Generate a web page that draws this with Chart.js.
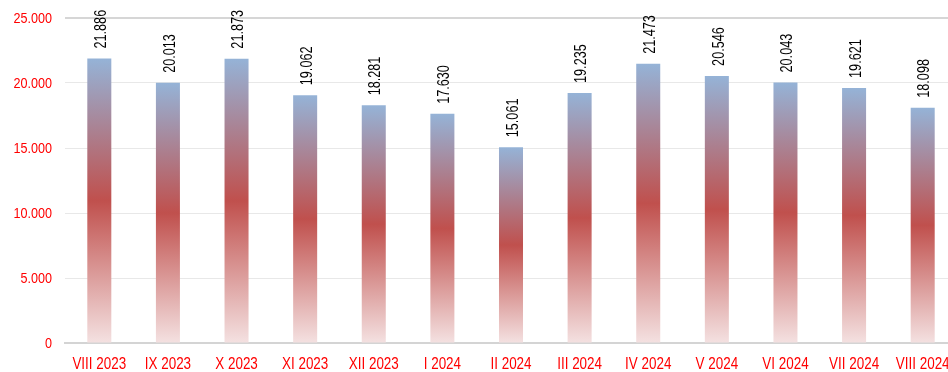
<!DOCTYPE html>
<html>
<head>
<meta charset="utf-8">
<script src="https://cdn.jsdelivr.net/npm/chart.js@4.4.1/dist/chart.umd.min.js"></script>
<style>
  html, body { margin: 0; padding: 0; background: #fff; overflow: hidden; }
  #wrap { width: 960px; height: 372px; position: relative; }
</style>
</head>
<body>
<div id="wrap"><canvas id="chart"></canvas></div>
<script>
const months = ['VIII 2023', 'IX 2023', 'X 2023', 'XI 2023', 'XII 2023', 'I 2024', 'II 2024',
  'III 2024', 'IV 2024', 'V 2024', 'VI 2024', 'VII 2024', 'VIII 2024'];
const totals = [21886, 20013, 21873, 19062, 18281, 17630, 15061, 19235, 21473, 20546, 20043, 19621, 18098];
const yTicks = [0, 5000, 10000, 15000, 20000, 25000];

const FONT = "'Liberation Sans', Arial, sans-serif";

// 21886 -> "21.886"
function fmt(v) {
  return String(Math.round(v)).replace(/\B(?=(\d{3})+(?!\d))/g, '.');
}

// narrow text: regular sans squeezed horizontally (along the text direction)
function narrowText(ctx, text, x, y, size, squeeze, align, angle) {
  ctx.save();
  ctx.font = size + 'px ' + FONT;
  ctx.translate(x, y);
  if (angle) ctx.rotate(angle);
  ctx.scale(squeeze, 1);
  ctx.textAlign = align;
  ctx.textBaseline = 'alphabetic';
  ctx.fillText(text, 0, 0);
  ctx.restore();
}

// each bar gets its own gradient: blue on top, red in the middle, pale pink at the base
function barGradient(ctx) {
  const chart = ctx.chart;
  if (!chart.chartArea || ctx.type !== 'data') return '#c0504d';
  const y = chart.scales.y;
  const top = y.getPixelForValue(ctx.raw);
  const base = y.getPixelForValue(0);
  const g = chart.ctx.createLinearGradient(0, top, 0, base);
  g.addColorStop(0, '#95b3d7');
  g.addColorStop(0.5, '#c0504d');
  g.addColorStop(1, '#f4e1e1');
  return g;
}

// axis labels + vertical value labels, positioned from the chart's scales
const labelsPlugin = {
  id: 'labelsPlugin',
  afterDraw(chart) {
    const ctx = chart.ctx;
    const xs = chart.scales.x;
    const ys = chart.scales.y;

    ctx.fillStyle = '#ff0000';
    yTicks.forEach(v => {
      narrowText(ctx, fmt(v), ys.right - 13, ys.getPixelForValue(v) + 5.4, 15, 0.84, 'right');
    });
    months.forEach((m, i) => {
      narrowText(ctx, m, xs.getPixelForTick(i), xs.top + 26, 16, 0.84, 'center');
    });

    ctx.fillStyle = '#000';
    const cap = 16 * 0.716;
    chart.getDatasetMeta(0).data.forEach((bar, i) => {
      narrowText(ctx, fmt(totals[i]), bar.x + 1 + cap / 2, bar.y - 10, 16, 0.79, 'left', -Math.PI / 2);
    });
  }
};

new Chart(document.getElementById('chart'), {
  type: 'bar',
  data: {
    labels: months,
    datasets: [{
      data: totals,
      backgroundColor: barGradient,
      borderWidth: 0,
      barPercentage: 0.7,
      categoryPercentage: 0.5
    }]
  },
  options: {
    responsive: true,
    maintainAspectRatio: false,
    animation: false,
    layout: { padding: { top: 18, right: 3, left: 0, bottom: 0 } },
    plugins: {
      legend: { display: false },
      tooltip: { enabled: false }
    },
    scales: {
      x: {
        grid: { display: false, drawTicks: false },
        border: { display: true, color: '#d4d4d4', width: 2 },
        ticks: { display: false, autoSkip: false },
        afterFit(scale) { scale.height = 29; }
      },
      y: {
        min: 0,
        max: 25000,
        afterBuildTicks(scale) { scale.ticks = yTicks.map(v => ({ value: v })); },
        grid: {
          drawTicks: false,
          color: c => c.tick && c.tick.value === 25000 ? '#d6d6d6' : '#e8e8e8',
          lineWidth: c => c.tick && c.tick.value === 25000 ? 2 : 1
        },
        border: { display: false },
        ticks: { display: false },
        afterFit(scale) { scale.width = 65; }
      }
    }
  },
  plugins: [labelsPlugin]
});
</script>
</body>
</html>
